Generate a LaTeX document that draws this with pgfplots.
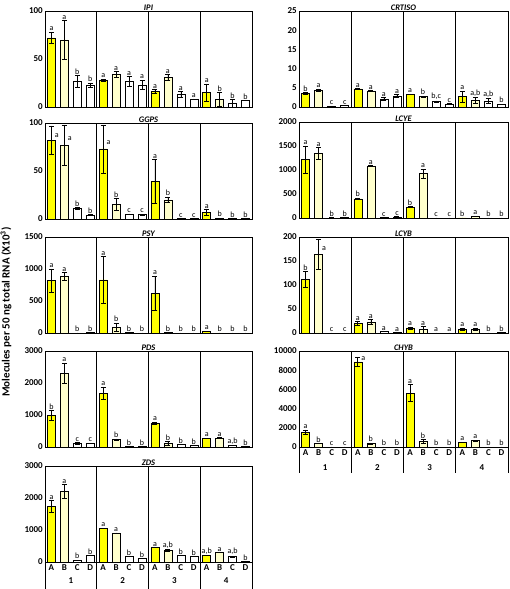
\documentclass[border=0pt]{standalone}
\usepackage{pgfplots}
\pgfplotsset{compat=1.18}
\usepackage{pgfplotstable}
\usepackage{fontspec}
\setmainfont{Carlito}
\definecolor{yA}{HTML}{FFFF00}
\definecolor{yB}{HTML}{FFFFCC}
\protected\def\R#1#2{\makebox[0pt][l]{\hspace{3.5pt}\raisebox{-#1pt}[0pt][0pt]{#2}}}

\pgfplotstableread{
g A eA lA B eB lB C eC lC D eD lD
1 72 6 a 70 20 a 27 6 b 23 2 b
2 28 1 a 34 3 a 27 5 a 23 5 a
3 16 2 a 31 3 a 13 3 a 8 0.5 a
4 15 9 a 8 7 b 4 4 b 7 0 b
}\tIPI
\pgfplotstableread{
g A eA lA B eB lB C eC lC D eD lD
1 3.5 0.2 b 4.4 0.3 a 0.2 0 c 0.35 0 c
2 4.7 0.1 a 4.2 0.1 a 2.1 0.3 a 2.85 0.4 a
3 3.3 0.1 a 2.7 0.1 b 1.4 0.2 b,c 0.8 0.1 c
4 2.7 1.4 a 1.7 0.8 a,b 1.6 0.6 a,b 0.7 0.05 b
}\tCRT
\pgfplotstableread{
g A eA lA B eB lB C eC lC D eD lD
1 82 15 \R{13}{a} 77 21 \R{17}{a} 10.8 1 b 4.2 0.5 b
2 73 25 \R{21}{a} 15.4 6 b 4.9 0.5 c 4.5 0.5 c
3 39 23 a 20 3 b 0.3 0 c 0.3 0 c
4 7 3 a 1 0 b 0.3 0 b 0.3 0 b
}\tGGPS
\pgfplotstableread{
g A eA lA B eB lB C eC lC D eD lD
1 1214 290 a 1347 120 a 5 0 b 10 0 b
2 400 20 b 1088 10 a 10 0 c 20 5 c
3 225 10 b 926 90 a 3 0 c 3 0 c
4 3 0 b 35 5 a 3 0 b 3 0 b
}\tLCYE
\pgfplotstableread{
g A eA lA B eB lB C eC lC D eD lD
1 820 180 a 889 60 a 2 0 b 10 0 b
2 831 360 a 89 65 b 10 0 b 2 0 b
3 617 270 a 10 0 b 2 0 b 2 0 b
4 26 5 a 2 0 b 2 0 b 2 0 b
}\tPSY
\pgfplotstableread{
g A eA lA B eB lB C eC lC D eD lD
1 112 16 b 164 32 \R{13}{a} 0.3 0 c 0.3 0 c
2 19.6 4 a 23 5 a 2.8 0 a 1.4 0 a
3 10.5 2 a 7 7 a 0.3 0 a 0.3 0 a
4 7.7 3 a 8.4 2 a 0.3 0 b 1 0 b
}\tLCYB
\pgfplotstableread{
g A eA lA B eB lB C eC lC D eD lD
1 993 155 b 2297 320 a 114 20 c 114 10 c
2 1676 200 a 238 15 b 20 0 b 20 0 b
3 745 30 a 114 50 b 83 0 b 41 0 b
4 279 0 a 279 15 a 41 0 a,b 10 0 b
}\tPDS
\pgfplotstableread{
g A eA lA B eB lB C eC lC D eD lD
1 1552 220 a 379 0 b 20 0 c 20 0 c
2 8862 500 \R{5}{a} 379 50 b 20 0 b 20 0 b
3 5620 900 a 586 170 b 20 0 b 20 0 b
4 517 0 a 655 70 a 20 0 b 20 0 b
}\tCHYB
\pgfplotstableread{
g A eA lA B eB lB C eC lC D eD lD
1 1738 190 a 2203 220 a 62 0 b 197 0 b
2 1055 0 a 910 0 a 166 0 b 114 0 b
3 455 0 a 362 30 a,b 197 0 b 166 0 b
4 207 0 a,b 290 0 a 166 20 a,b 21 0 b
}\tZDS

\pgfplotsset{
 panel/.style={scale only axis, width=207pt, height=96pt, xmin=0, xmax=16, ymin=0,
   xtick=\empty, clip=false, axis line style={line width=0.6pt}, major tick length=0pt,
   scaled y ticks=false, every axis title shift=0pt,
   title style={font=\bfseries\itshape\fontsize{8.5}{9}\selectfont, inner sep=0pt, yshift=0.5pt},
   yticklabel style={font=\bfseries\fontsize{9}{10}\selectfont, inner sep=2pt,
     /pgf/number format/.cd, fixed, 1000 sep={}, assume math mode=true}},
 barbase/.style={ybar, bar width=8pt, draw=black, line width=0.5pt,
   error bars/.cd, y dir=both, y explicit,
   error bar style={black, line width=0.6pt},
   error mark options={black, rotate=90, mark size=2.5pt, line width=0.6pt}},
 lbl/.style={only marks, mark=*, mark size=0pt, mark options={draw=none, fill=none},
   scatter/use mapped color={draw=none, fill=none},
   point meta=explicit symbolic, nodes near coords={\pgfplotspointmeta},
   nodes near coords style={font=\fontsize{8}{9}\selectfont, anchor=south, inner sep=1pt}},
 bottomx/.style={xtick={0.5,1.5,2.5,3.5,4.5,5.5,6.5,7.5,8.5,9.5,10.5,11.5,12.5,13.5,14.5,15.5},
   xticklabels={A,B,C,D,A,B,C,D,A,B,C,D,A,B,C,D},
   xticklabel style={font=\bfseries\fontsize{9}{10}\selectfont, inner sep=1pt, yshift=-1pt}},
}

\newcommand{\panel}[8]{%
\begin{axis}[panel, at={(#1pt,#2pt)}, anchor=south west, ymax=#3, ytick={#4}, title={#5}, #7]
\addplot[fill=yA, barbase] table[x expr=4*\thisrow{g}-3.5, y=A, y error=eA] {#6};
\addplot[fill=yB, barbase] table[x expr=4*\thisrow{g}-2.5, y=B, y error=eB] {#6};
\addplot[fill=white, barbase] table[x expr=4*\thisrow{g}-1.5, y=C, y error=eC] {#6};
\addplot[fill=white, barbase] table[x expr=4*\thisrow{g}-0.5, y=D, y error=eD] {#6};
\addplot[lbl] table[x expr=4*\thisrow{g}-3.5, y expr=\thisrow{A}+\thisrow{eA}, meta=lA] {#6};
\addplot[lbl] table[x expr=4*\thisrow{g}-2.5, y expr=\thisrow{B}+\thisrow{eB}, meta=lB] {#6};
\addplot[lbl] table[x expr=4*\thisrow{g}-1.5, y expr=\thisrow{C}+\thisrow{eC}, meta=lC] {#6};
\addplot[lbl] table[x expr=4*\thisrow{g}-0.5, y expr=\thisrow{D}+\thisrow{eD}, meta=lD] {#6};
\draw[line width=0.6pt] (rel axis cs:0.25,0) -- (rel axis cs:0.25,1);
\draw[line width=0.6pt] (rel axis cs:0.5,0) -- (rel axis cs:0.5,1);
\draw[line width=0.6pt] (rel axis cs:0.75,0) -- (rel axis cs:0.75,1);
#8
\end{axis}}

\begin{document}
\begin{tikzpicture}
\useasboundingbox (0,0) rectangle (509pt,589pt);
\node[rotate=90, font=\bfseries\fontsize{11}{13}\selectfont] at (6pt,277pt)
  {Molecules per 50 ng total RNA (X10\textsuperscript{3})};

\panel{45}{482}{100}{0,50,100}{IPI}{\tIPI}{}{}
\panel{45}{370}{100}{0,50,100}{GGPS}{\tGGPS}{}{}
\panel{45}{256}{1500}{0,500,1000,1500}{PSY}{\tPSY}{}{}
\panel{45}{142}{3000}{0,1000,2000,3000}{PDS}{\tPDS}{}{}
\panel{45}{27}{3000}{0,1000,2000,3000}{ZDS}{\tZDS}{bottomx}{%
  \draw[line width=0.6pt] (rel axis cs:0,0) -- ++(0,-27pt);
  \draw[line width=0.6pt] (rel axis cs:0.25,0) -- ++(0,-27pt);
  \draw[line width=0.6pt] (rel axis cs:0.5,0) -- ++(0,-27pt);
  \draw[line width=0.6pt] (rel axis cs:0.75,0) -- ++(0,-27pt);
  \draw[line width=0.6pt] (rel axis cs:1,0) -- ++(0,-27pt);
  \node[font=\bfseries\fontsize{9}{10}\selectfont] at ([yshift=-19pt]axis cs:2,0) {1};
  \node[font=\bfseries\fontsize{9}{10}\selectfont] at ([yshift=-19pt]axis cs:6,0) {2};
  \node[font=\bfseries\fontsize{9}{10}\selectfont] at ([yshift=-19pt]axis cs:10,0) {3};
  \node[font=\bfseries\fontsize{9}{10}\selectfont] at ([yshift=-19pt]axis cs:14,0) {4};}

\panel{299}{482}{25}{0,5,10,15,20,25}{CRTISO}{\tCRT}{width=209pt}{}
\panel{299}{371}{2000}{0,500,1000,1500,2000}{LCYE}{\tLCYE}{width=209pt}{}
\panel{299}{256}{200}{0,50,100,150,200}{LCYB}{\tLCYB}{width=209pt}{}
\panel{299}{142}{10000}{0,2000,4000,6000,8000,10000}{CHYB}{\tCHYB}{width=209pt, bottomx}{%
  \draw[line width=0.6pt] (rel axis cs:0,0) -- ++(0,-26pt);
  \draw[line width=0.6pt] (rel axis cs:0.25,0) -- ++(0,-26pt);
  \draw[line width=0.6pt] (rel axis cs:0.5,0) -- ++(0,-26pt);
  \draw[line width=0.6pt] (rel axis cs:0.75,0) -- ++(0,-26pt);
  \draw[line width=0.6pt] (rel axis cs:1,0) -- ++(0,-26pt);
  \node[font=\bfseries\fontsize{9}{10}\selectfont] at ([yshift=-21pt]axis cs:2,0) {1};
  \node[font=\bfseries\fontsize{9}{10}\selectfont] at ([yshift=-21pt]axis cs:6,0) {2};
  \node[font=\bfseries\fontsize{9}{10}\selectfont] at ([yshift=-21pt]axis cs:10,0) {3};
  \node[font=\bfseries\fontsize{9}{10}\selectfont] at ([yshift=-21pt]axis cs:14,0) {4};}
\end{tikzpicture}
\end{document}
